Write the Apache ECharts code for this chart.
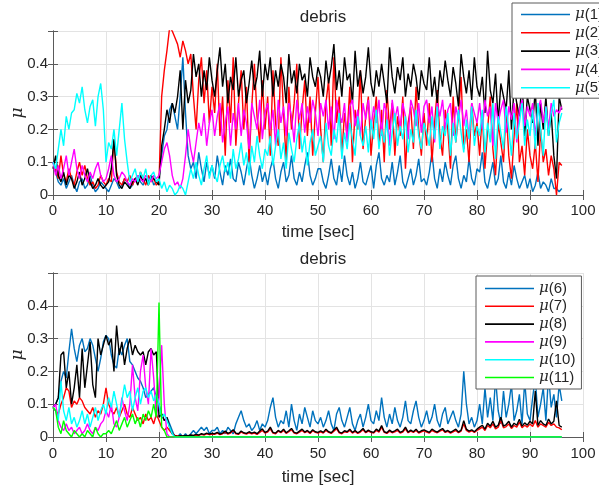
<!DOCTYPE html>
<html><head><meta charset="utf-8">
<script src="https://cdn.jsdelivr.net/npm/echarts@6/dist/echarts.min.js"></script>
<style>html,body{margin:0;padding:0;background:#fff}#c{width:599px;height:491px}</style>
</head><body><div id="c"></div>
<script>
// sample times [sec]
const T = [
0,.5,1,1.5,2,2.5,3,3.5,4,4.5,5,5.5,6,6.5,7,7.5,8,8.5,9,9.5,
10,10.5,11,11.5,12,12.5,13,13.5,14,14.5,15,15.5,16,16.5,17,17.5,18,18.5,19,19.5,
20,20.5,21,21.5,22,22.5,23,23.5,24,24.5,25,25.5,26,26.5,27,27.5,28,28.5,29,29.5,
30,30.5,31,31.5,32,32.5,33,33.5,34,34.5,35,35.5,36,36.5,37,37.5,38,38.5,39,39.5,
40,40.5,41,41.5,42,42.5,43,43.5,44,44.5,45,45.5,46,46.5,47,47.5,48,48.5,49,49.5,
50,50.5,51,51.5,52,52.5,53,53.5,54,54.5,55,55.5,56,56.5,57,57.5,58,58.5,59,59.5,
60,60.5,61,61.5,62,62.5,63,63.5,64,64.5,65,65.5,66,66.5,67,67.5,68,68.5,69,69.5,
70,70.5,71,71.5,72,72.5,73,73.5,74,74.5,75,75.5,76,76.5,77,77.5,78,78.5,79,79.5,
80,80.5,81,81.5,82,82.5,83,83.5,84,84.5,85,85.5,86,86.5,87,87.5,88,88.5,89,89.5,
90,90.5,91,91.5,92,92.5,93,93.5,94,94.5,95,95.5,96];

// ---- top panel ----
const mu1 = [
.10,.07,.04,.03,.05,.02,.04,.06,.03,.01,.04,.05,.02,.03,.06,.03,.01,.02,.04,.03,.02,
.01,.03,.05,.04,.02,.03,.05,.04,.02,.03,.05,.06,.04,.03,.05,.04,.06,.03,.04,.05,
.12,.18,.20,.26,.28,.24,.20,.30,.42,.25,.12,.08,.10,.05,.13,.08,.04,.10,.06,.09,
.05,.12,.07,.03,.09,.06,.11,.05,.04,.10,.07,.03,.08,.12,.06,.02,.05,.09,.04,.07,
.03,.08,.11,.05,.02,.07,.10,.04,.06,.12,.05,.03,.07,.04,.09,.13,.06,.03,.05,.08,
.08,.04,.02,.06,.11,.05,.03,.09,.04,.12,.06,.03,.07,.02,.05,.10,.04,.03,.06,.09,
.02,.09,.13,.05,.03,.06,.04,.10,.03,.07,.12,.04,.02,.05,.08,.03,.06,.11,.04,.05,
.03,.07,.13,.05,.02,.08,.04,.10,.06,.03,.09,.12,.05,.02,.06,.04,.11,.05,.03,.08,
.07,.13,.04,.02,.06,.10,.03,.05,.12,.04,.02,.07,.03,.09,.05,.02,.04,.06,.02,.05,
.01,.03,.07,.02,.04,.03,.01,.05,.02,.02,.01,.02];
const mu2 = [
.10,.08,.05,.12,.06,.04,.08,.05,.03,.07,.10,.06,.09,.05,.03,.04,.02,.03,.06,.04,.03,
.05,.04,.17,.07,.04,.03,.05,.04,.06,.03,.05,.04,.07,.05,.03,.06,.04,.05,.03,.04,
.30,.38,.44,.51,.50,.48,.46,.42,.47,.44,.40,.43,.30,.20,.35,.42,.28,.38,.22,.33,
.25,.40,.18,.30,.12,.35,.22,.42,.15,.28,.38,.20,.33,.10,.27,.40,.24,.16,.35,.20,
.30,.12,.38,.22,.15,.42,.25,.10,.33,.20,.28,.40,.14,.26,.35,.18,.30,.12,.25,.36,
.20,.10,.28,.35,.15,.42,.22,.30,.12,.25,.18,.33,.10,.26,.20,.38,.14,.24,.30,.12,
.22,.30,.15,.26,.10,.32,.20,.28,.12,.24,.18,.30,.08,.22,.27,.14,.33,.20,.12,.25,
.15,.28,.10,.22,.32,.18,.12,.26,.20,.08,.30,.16,.24,.36,.14,.20,.10,.28,.18,.22,
.12,.25,.08,.20,.30,.14,.06,.22,.16,.10,.26,.12,.05,.18,.28,.10,.15,.06,.20,.12,
.08,.16,.04,.20,.10,.14,.06,.12,.08,.00,.10,.09];
const mu3 = [
.08,.12,.06,.04,.07,.03,.06,.05,.02,.04,.07,.03,.05,.08,.04,.02,.03,.05,.03,.02,.03,
.04,.08,.17,.06,.03,.02,.04,.03,.02,.04,.05,.03,.06,.04,.05,.03,.06,.05,.04,.03,
.15,.20,.26,.22,.28,.25,.30,.38,.20,.35,.28,.32,.43,.36,.40,.30,.38,.32,.42,.35,
.30,.38,.45,.33,.40,.28,.36,.32,.42,.30,.35,.38,.28,.34,.41,.32,.36,.44,.30,.40,
.35,.42,.30,.38,.33,.40,.36,.28,.43,.34,.38,.31,.40,.35,.37,.30,.42,.36,.33,.39,
.36,.30,.41,.34,.39,.46,.32,.38,.30,.42,.35,.37,.28,.44,.33,.38,.31,.36,.45,.34,
.30,.38,.33,.40,.34,.28,.45,.36,.31,.39,.35,.42,.30,.37,.33,.40,.36,.29,.38,.34,
.32,.42,.30,.36,.28,.38,.33,.41,.35,.30,.39,.34,.27,.43,.36,.31,.38,.29,.42,.33,
.30,.36,.25,.44,.32,.28,.37,.22,.34,.30,.26,.38,.20,.33,.28,.24,.35,.18,.30,.26,
.22,.32,.15,.28,.20,.30,.18,.25,.12,.05,.30,.26];
const mu4 = [
.10,.06,.09,.05,.08,.12,.06,.10,.14,.08,.05,.09,.06,.04,.07,.05,.08,.10,.06,.04,.05,
.08,.12,.06,.04,.05,.07,.06,.04,.03,.05,.04,.06,.05,.04,.06,.05,.04,.06,.05,.06,
.10,.14,.16,.12,.06,.03,.04,.02,.05,.12,.20,.14,.10,.16,.22,.18,.25,.15,.22,.26,
.18,.24,.28,.16,.22,.27,.15,.25,.20,.28,.18,.26,.22,.14,.28,.24,.20,.29,.17,.25,
.28,.20,.26,.15,.29,.22,.27,.18,.28,.24,.16,.29,.23,.28,.19,.27,.22,.29,.25,.18,
.28,.24,.29,.20,.27,.17,.29,.25,.22,.28,.16,.27,.29,.21,.26,.18,.28,.23,.29,.20,
.27,.22,.29,.18,.28,.25,.15,.29,.23,.27,.20,.28,.24,.17,.29,.26,.21,.28,.19,.27,
.29,.22,.27,.16,.28,.24,.29,.20,.26,.28,.18,.27,.23,.29,.21,.26,.17,.28,.25,.22,
.28,.20,.29,.24,.27,.15,.28,.22,.26,.29,.19,.27,.23,.28,.16,.26,.29,.21,.27,.24,
.28,.18,.26,.29,.22,.27,.20,.28,.24,.26,.25,.27];
const mu5 = [
.10,.08,.14,.20,.15,.24,.20,.25,.26,.31,.28,.33,.26,.22,.27,.29,.21,.30,.34,.26,.10,
.16,.14,.20,.12,.20,.28,.17,.10,.04,.06,.08,.04,.07,.05,.08,.03,.06,.07,.04,.05,
.02,.04,.01,.03,.02,.00,.01,.03,.02,.00,.04,.08,.05,.10,.06,.03,.08,.12,.05,.09,
.06,.04,.09,.12,.07,.10,.05,.14,.08,.11,.16,.09,.13,.06,.15,.10,.18,.12,.08,.14,
.12,.18,.09,.15,.20,.11,.16,.08,.19,.14,.10,.17,.22,.13,.18,.09,.16,.20,.12,.15,
.18,.10,.22,.15,.12,.20,.16,.25,.11,.19,.14,.22,.17,.12,.24,.18,.15,.21,.13,.23,
.17,.26,.14,.20,.16,.23,.12,.19,.25,.15,.21,.17,.24,.13,.20,.16,.26,.18,.14,.22,
.19,.15,.24,.17,.27,.14,.21,.18,.25,.12,.22,.16,.26,.19,.13,.23,.17,.27,.15,.21,
.18,.26,.13,.22,.16,.28,.11,.24,.19,.14,.27,.20,.12,.25,.17,.22,.28,.15,.23,.18,
.26,.14,.28,.20,.12,.27,.18,.25,.29,.16,.22,.25];

// ---- bottom panel ----
const mu6 = [
.09,.10,.12,.17,.20,.18,.26,.33,.27,.23,.28,.30,.26,.27,.30,.28,.24,.20,.24,.29,.31,
.30,.25,.22,.21,.27,.25,.28,.30,.23,.22,.20,.18,.17,.15,.12,.13,.14,.15,.12,.10,
.07,.05,.06,.04,.02,.00,.00,.01,.00,.01,.00,.01,.02,.01,.02,.03,.02,.03,.01,.02,
.02,.03,.01,.02,.01,.03,.02,.01,.04,.06,.08,.05,.03,.04,.02,.03,.05,.02,.04,.03,
.05,.09,.12,.06,.03,.05,.04,.08,.03,.10,.05,.02,.07,.04,.09,.06,.03,.08,.05,.04,
.06,.03,.05,.08,.04,.02,.07,.09,.05,.03,.06,.09,.04,.02,.05,.07,.03,.06,.10,.05,
.04,.08,.05,.12,.06,.03,.07,.04,.09,.05,.03,.06,.11,.05,.04,.08,.11,.06,.03,.05,
.08,.04,.06,.10,.05,.03,.07,.09,.04,.06,.08,.05,.03,.07,.20,.10,.04,.06,.03,.05,
.10,.04,.15,.06,.12,.05,.18,.08,.04,.14,.06,.10,.16,.05,.08,.13,.04,.17,.07,.05,
.12,.18,.06,.10,.15,.05,.19,.09,.13,.06,.16,.11];
const mu7 = [
.09,.08,.07,.10,.12,.15,.14,.09,.11,.10,.12,.11,.09,.08,.07,.09,.06,.08,.07,.10,.15,
.10,.08,.07,.09,.06,.08,.10,.07,.06,.09,.07,.05,.06,.04,.07,.05,.06,.04,.07,.05,
.03,.02,.03,.02,.01,.005,.003,.004,.002,.004,.003,.005,.004,.006,.005,.008,.006,.01,.007,.009,
.008,.012,.007,.01,.014,.009,.012,.02,.01,.008,.015,.011,.009,.013,.01,.012,.008,.014,.02,.012,
.015,.025,.012,.01,.018,.013,.02,.011,.016,.022,.012,.01,.015,.02,.013,.017,.011,.019,.014,.012,
.016,.012,.02,.014,.011,.018,.025,.013,.01,.016,.014,.02,.012,.017,.011,.015,.022,.013,.018,.014,
.012,.02,.015,.03,.014,.011,.018,.013,.016,.02,.012,.015,.025,.013,.018,.014,.02,.012,.016,.019,
.015,.012,.02,.016,.013,.018,.022,.014,.017,.012,.016,.02,.013,.018,.04,.02,.015,.019,.014,.02,
.025,.03,.02,.035,.028,.04,.025,.03,.05,.028,.032,.04,.026,.035,.03,.045,.028,.036,.03,.04,
.032,.05,.03,.04,.035,.03,.045,.035,.04,.03,.028,.022];
const mu8 = [
.09,.10,.12,.25,.26,.15,.20,.10,.15,.22,.12,.27,.15,.22,.29,.16,.12,.30,.25,.28,.31,
.28,.30,.20,.34,.25,.29,.22,.27,.30,.25,.28,.26,.25,.26,.22,.26,.27,.25,.26,.06,
.07,.05,.06,.03,.01,.003,.002,.004,.003,.005,.004,.006,.005,.008,.006,.01,.008,.012,.009,.011,
.01,.014,.009,.012,.018,.011,.015,.022,.012,.01,.018,.013,.011,.016,.012,.015,.01,.018,.025,.014,
.018,.03,.014,.012,.02,.015,.024,.013,.019,.026,.014,.012,.018,.024,.015,.02,.013,.022,.016,.014,
.019,.014,.024,.016,.013,.021,.03,.015,.012,.019,.016,.024,.014,.02,.013,.018,.026,.015,.021,.016,
.014,.024,.018,.035,.016,.013,.021,.015,.019,.024,.014,.018,.03,.015,.021,.016,.024,.014,.019,.022,
.018,.014,.024,.019,.015,.021,.026,.016,.02,.014,.019,.024,.015,.021,.05,.024,.018,.022,.016,.024,
.03,.036,.024,.042,.033,.048,.03,.036,.06,.033,.038,.048,.03,.042,.036,.054,.033,.043,.036,.048,
.04,.14,.035,.05,.04,.035,.055,.04,.048,.11,.035,.03];
const mu9 = [
.09,.10,.05,.03,.02,.04,.02,.03,.01,.02,.03,.01,.02,.04,.02,.01,.03,.02,.04,.05,.08,
.06,.10,.04,.03,.06,.12,.08,.05,.10,.22,.12,.08,.20,.25,.15,.10,.27,.18,.06,.12,
.28,.10,.01,0,0,0,0,0,0,0,0,0,0,0,0,0,0,0,0,0,
0,0,0,0,0,0,0,0,0,0,0,0,0,0,0,0,0,0,0,0,
0,0,0,0,0,0,0,0,0,0,0,0,0,0,0,0,0,0,0,0,
0,0,0,0,0,0,0,0,0,0,0,0,0,0,0,0,0,0,0,0,
0,0,0,0,0,0,0,0,0,0,0,0,0,0,0,0,0,0,0,0,
0,0,0,0,0,0,0,0,0,0,0,0,0,0,0,0,0,0,0,0,
0,0,0,0,0,0,0,0,0,0,0,0,0,0,0,0,0,0,0,0,
0,0,0,0,0,0,0,0,0,0,0,0];
const mu10 = [
.09,.08,.05,.17,.08,.05,.09,.04,.06,.03,.05,.08,.04,.07,.03,.06,.09,.05,.08,.10,.07,
.12,.09,.14,.10,.06,.11,.16,.12,.14,.08,.12,.15,.10,.14,.15,.12,.14,.11,.13,.10,
.06,.07,.05,.03,.01,0,0,0,0,0,0,0,0,0,0,0,0,0,0,0,
0,0,0,0,0,0,0,0,0,0,0,0,0,0,0,0,0,0,0,0,
0,0,0,0,0,0,0,0,0,0,0,0,0,0,0,0,0,0,0,0,
0,0,0,0,0,0,0,0,0,0,0,0,0,0,0,0,0,0,0,0,
0,0,0,0,0,0,0,0,0,0,0,0,0,0,0,0,0,0,0,0,
0,0,0,0,0,0,0,0,0,0,0,0,0,0,0,0,0,0,0,0,
0,0,0,0,0,0,0,0,0,0,0,0,0,0,0,0,0,0,0,0,
0,0,0,0,0,0,0,0,0,0,0,0];
const mu11 = [
.09,.08,.03,.01,.05,.02,.01,.00,.02,.01,.00,.01,.00,.02,.01,.00,.03,.01,.00,.01,.01,
.02,.01,.03,.05,.02,.04,.06,.03,.05,.07,.04,.06,.03,.07,.05,.08,.06,.10,.06,.41,
.03,.02,0,0,0,0,0,0,0,0,0,0,0,0,0,0,0,0,0,0,
0,0,0,0,0,0,0,0,0,0,0,0,0,0,0,0,0,0,0,0,
0,0,0,0,0,0,0,0,0,0,0,0,0,0,0,0,0,0,0,0,
0,0,0,0,0,0,0,0,0,0,0,0,0,0,0,0,0,0,0,0,
0,0,0,0,0,0,0,0,0,0,0,0,0,0,0,0,0,0,0,0,
0,0,0,0,0,0,0,0,0,0,0,0,0,0,0,0,0,0,0,0,
0,0,0,0,0,0,0,0,0,0,0,0,0,0,0,0,0,0,0,0,
0,0,0,0,0,0,0,0,0,0,0,0];

const topSeries = [['μ(1)', mu1, '#0072BD'], ['μ(2)', mu2, '#FF0000'], ['μ(3)', mu3, '#000000'], ['μ(4)', mu4, '#FF00FF'], ['μ(5)', mu5, '#00FFFF']];
const botSeries = [['μ(6)', mu6, '#0072BD'], ['μ(7)', mu7, '#FF0000'], ['μ(8)', mu8, '#000000'], ['μ(9)', mu9, '#FF00FF'], ['μ(10)', mu10, '#00FFFF'], ['μ(11)', mu11, '#00FF00']];
const xTicks = {min: 0, max: 100, interval: 10};
const yTicks = {min: 0, max: 0.5, interval: 0.1};
const panelTitle = 'debris';
const xName = 'time [sec]';
const yName = 'μ';

const FONT = 'Liberation Sans, Arial, sans-serif';
const AX = '#262626';
const GRIDC = '#e3e3e3';
const BOX = '#5a5a5a';
// thin horizontal line used as legend key (bounding box 49 x 15)
const KEY = 'path://M0,0L0,0M0,6.7L49,6.7L49,8.3L0,8.3ZM0,15L0,15';

function pairs(v) { return v.map((y, i) => [T[i], y]); }

function xAxes(gi, labelMargin, nameGap) {
  return [
    {gridIndex: gi, type: 'value', position: 'bottom', ...xTicks,
     name: xName, nameLocation: 'middle', nameGap: nameGap, nameMoveOverlap: false,
     nameTextStyle: {fontFamily: FONT, fontSize: 17, color: AX},
     axisLine: {show: true, lineStyle: {color: BOX, width: 1}},
     axisTick: {show: true, inside: true, length: 5, lineStyle: {color: BOX}},
     axisLabel: {fontFamily: FONT, fontSize: 15, color: AX, margin: labelMargin, hideOverlap: false},
     splitLine: {show: true, lineStyle: {color: GRIDC, width: 1}}},
    {gridIndex: gi, type: 'value', position: 'top', ...xTicks,
     axisLine: {show: true, lineStyle: {color: BOX, width: 1}},
     axisTick: {show: true, inside: true, length: 5, lineStyle: {color: BOX}},
     axisLabel: {show: false}, splitLine: {show: false}}
  ];
}
function yAxes(gi) {
  return [
    {gridIndex: gi, type: 'value', position: 'left', ...yTicks,
     name: yName, nameLocation: 'middle', nameGap: 27, nameRotate: 90, nameMoveOverlap: false,
     nameTextStyle: {fontFamily: 'DejaVu Serif, serif', fontStyle: 'italic', fontSize: 17, color: AX},
     axisLine: {show: true, lineStyle: {color: BOX, width: 1}},
     axisTick: {show: true, inside: true, length: 5, lineStyle: {color: BOX}},
     axisLabel: {fontFamily: FONT, fontSize: 15, color: AX, margin: 5,
       formatter: v => (v > 0.45 ? '' : String(+v.toFixed(1)))},
     splitLine: {show: true, lineStyle: {color: GRIDC, width: 1}}},
    {gridIndex: gi, type: 'value', position: 'right', ...yTicks,
     axisLine: {show: true, lineStyle: {color: BOX, width: 1}},
     axisTick: {show: true, inside: true, length: 5, lineStyle: {color: BOX}},
     axisLabel: {show: false}, splitLine: {show: false}}
  ];
}
function mkSeries(list, xi, yi) {
  return list.map(([name, vals, color]) => ({
    type: 'line', name: name, data: pairs(vals), xAxisIndex: xi, yAxisIndex: yi,
    symbol: 'none', showSymbol: false, animation: false, silent: true,
    lineStyle: {color: color, width: 1.4}, itemStyle: {color: color}
  }));
}
function legendFmt(name) { return '{m|μ}' + name.slice(1); }
function mkLegend(list, left, top, gap, padding) {
  return {
    data: list.map(s => s[0]), left: left, top: top, orient: 'vertical', align: 'left',
    icon: KEY, itemWidth: 49, itemHeight: 15, itemGap: gap, padding: padding,
    borderColor: BOX, borderWidth: 1, backgroundColor: '#fff', borderRadius: 0,
    formatter: legendFmt, selectedMode: false,
    textStyle: {fontFamily: FONT, fontSize: 15, color: AX,
      rich: {m: {fontFamily: 'DejaVu Serif, serif', fontStyle: 'italic', fontSize: 15, color: AX}}}
  };
}

const chart = echarts.init(document.getElementById('c'), null, {renderer: 'canvas'});
chart.setOption({
  animation: false,
  backgroundColor: '#fff',
  title: [
    {text: panelTitle, left: 318, top: 4, textAlign: 'center', textStyle: {fontFamily: FONT, fontSize: 17, fontWeight: 'normal', color: AX}},
    {text: panelTitle, left: 318, top: 246, textAlign: 'center', textStyle: {fontFamily: FONT, fontSize: 17, fontWeight: 'normal', color: AX}}
  ],
  grid: [
    {left: 53, width: 530, top: 31, height: 164, containLabel: false, outerBoundsMode: 'none'},
    {left: 53, width: 530, top: 273, height: 164, containLabel: false, outerBoundsMode: 'none'}
  ],
  xAxis: [...xAxes(0, 8, 29), ...xAxes(1, 9, 32)],
  yAxis: [...yAxes(0), ...yAxes(1)],
  legend: [
    mkLegend(topSeries, 512, 3, 3.3, [4, 9, 3, 9]),
    mkLegend(botSeries, 476, 276, 2.8, [5, 6, 4, 9])
  ],
  series: [...mkSeries(topSeries, 0, 0), ...mkSeries(botSeries, 2, 2)]
});
</script></body></html>
